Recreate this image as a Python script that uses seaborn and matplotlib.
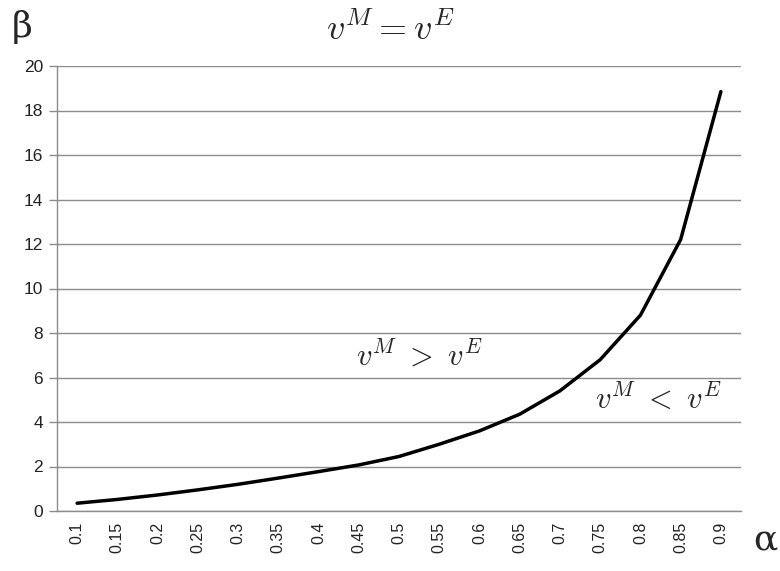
import numpy as np
import pandas as pd
import matplotlib
matplotlib.use("Agg")
import matplotlib.pyplot as plt
import seaborn as sns

# data
alpha = ["0.1", "0.15", "0.2", "0.25", "0.3", "0.35", "0.4", "0.45", "0.5",
         "0.55", "0.6", "0.65", "0.7", "0.75", "0.8", "0.85", "0.9"]
beta = [0.35, 0.52, 0.72, 0.95, 1.2, 1.48, 1.77, 2.07, 2.45,
        3.0, 3.6, 4.35, 5.4, 6.8, 8.8, 12.2, 18.85]
y_ticks = [0, 2, 4, 6, 8, 10, 12, 14, 16, 18, 20]

df = pd.DataFrame({"pos": np.arange(len(alpha)), "beta": beta})

sns.set_style("white")
plt.rcParams["font.family"] = ["Liberation Sans", "DejaVu Sans"]
plt.rcParams["mathtext.fontset"] = "cm"

fig = plt.figure(figsize=(7.8, 5.71), dpi=100)
ax = fig.add_axes([57 / 780, 1 - 511 / 571, (741 - 57) / 780, (511 - 66) / 571])

sns.lineplot(data=df, x="pos", y="beta", color="black", linewidth=2.5, ax=ax)

ax.set_xlim(-0.5, len(alpha) - 0.5)
ax.set_ylim(0, 20)
ax.set_yticks(y_ticks)
ax.set_xticks(df["pos"])
ax.set_xticklabels(alpha, rotation=90, fontsize=11.5, color="#222222")
ax.tick_params(axis="y", labelsize=12.5, labelcolor="#222222", color="#8c8c8c",
               length=6, width=1, direction="out", left=True, pad=4)
ax.tick_params(axis="x", length=0, pad=8)
ax.grid(axis="y", color="#8c8c8c", linewidth=1)
ax.set_axisbelow(True)
for s in ["top", "right"]:
    ax.spines[s].set_visible(False)
for s in ["left", "bottom"]:
    ax.spines[s].set_color("#8c8c8c")
    ax.spines[s].set_linewidth(1)
ax.set_xlabel("")
ax.set_ylabel("")

# axis symbols and region labels
fig.text(22 / 780, 1 - 27 / 571, "β", fontsize=26, family="DejaVu Serif",
         ha="center", va="center")
fig.text(765 / 780, 1 - 540 / 571, "α", fontsize=26, family="DejaVu Serif",
         ha="center", va="center")
fig.text(390 / 780, 1 - 30 / 571, r"$v^M = v^E$", fontsize=26,
         ha="center", va="center")
ax.text(8.5, 7.0, r"$v^M\ >\ v^E$", fontsize=22, ha="center", va="center")
ax.text(14.45, 5.0, r"$v^M\ <\ v^E$", fontsize=22, ha="center", va="center")

fig.savefig("out.png", dpi=100)
